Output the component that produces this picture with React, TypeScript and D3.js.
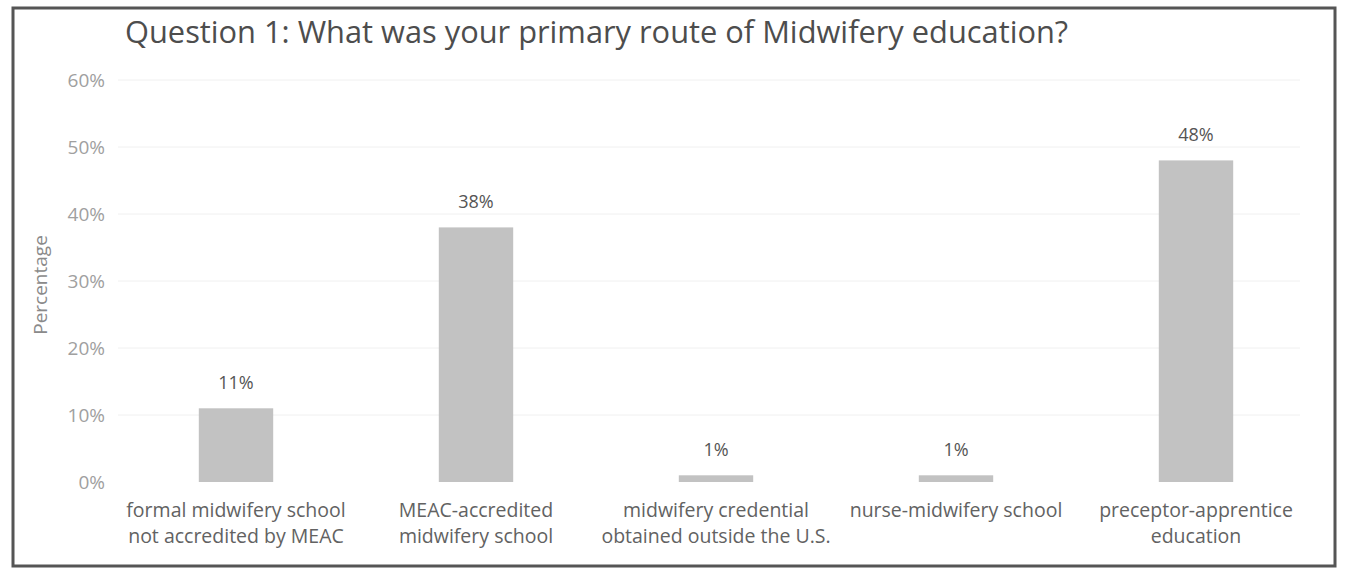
import * as d3 from "d3";
import React from "react";

// survey answers, question 1
const categories = [
  "formal midwifery school not accredited by MEAC",
  "MEAC-accredited midwifery school",
  "midwifery credential obtained outside the U.S.",
  "nurse-midwifery school",
  "preceptor-apprentice education",
];
const categoryLines = [
  ["formal midwifery school", "not accredited by MEAC"],
  ["MEAC-accredited", "midwifery school"],
  ["midwifery credential", "obtained outside the U.S."],
  ["nurse-midwifery school"],
  ["preceptor-apprentice", "education"],
];
const values = [0.11, 0.38, 0.01, 0.01, 0.48];
const yTicks = [0, 0.1, 0.2, 0.3, 0.4, 0.5, 0.6];

const W = 1345;
const H = 573;
const FONT = "'Open Sans', 'Liberation Sans', sans-serif";

export default function App() {
  const x = d3
    .scaleBand<string>()
    .domain(categories)
    .range([116, 1316])
    .paddingInner(0.69)
    .paddingOuter(0.345);

  const y = d3.scaleLinear().domain([0, 0.6]).range([482, 80]);
  const pct = d3.format(".0%");

  return (
    <div style={{ position: "fixed", left: 0, top: 0 }}>
      <svg width={W} height={H} style={{ display: "block", background: "#fff" }}>
        {/* frame */}
        <rect x={13} y={8} width={1322} height={558} fill="none" stroke="#555" strokeWidth={3} />

        <text x={125} y={43} fontFamily={FONT} fontSize={30.8} fill="#4d4d4d">
          Question 1: What was your primary route of Midwifery education?
        </text>

        {/* grid */}
        {yTicks.map((t) => (
          <g key={t}>
            {t > 0 && (
              <line x1={118} x2={1300} y1={y(t)} y2={y(t)} stroke="#f0f0f0" strokeWidth={1} />
            )}
            <text
              x={105}
              y={y(t)}
              dy="0.35em"
              textAnchor="end"
              fontFamily={FONT}
              fontSize={19}
              fill="#a0a0a0"
            >
              {pct(t)}
            </text>
          </g>
        ))}

        <text
          transform={`translate(47,285) rotate(-90)`}
          textAnchor="middle"
          fontFamily={FONT}
          fontSize={19}
          fill="#8a8a8a"
        >
          Percentage
        </text>

        {/* bars */}
        {categories.map((c, i) => {
          const bx = x(c) ?? 0;
          const cx = bx + x.bandwidth() / 2;
          return (
            <g key={c}>
              <rect
                x={bx}
                y={y(values[i])}
                width={x.bandwidth()}
                height={y(0) - y(values[i])}
                fill="#c2c2c2"
              />
              <text
                x={cx}
                y={y(values[i]) - 19}
                textAnchor="middle"
                fontFamily={FONT}
                fontSize={18}
                fill="#555"
              >
                {pct(values[i])}
              </text>
              {categoryLines[i].map((ln, j) => (
                <text
                  key={j}
                  x={cx}
                  y={517 + j * 26}
                  textAnchor="middle"
                  fontFamily={FONT}
                  fontSize={19.5}
                  fill="#626262"
                >
                  {ln}
                </text>
              ))}
            </g>
          );
        })}
      </svg>
    </div>
  );
}
